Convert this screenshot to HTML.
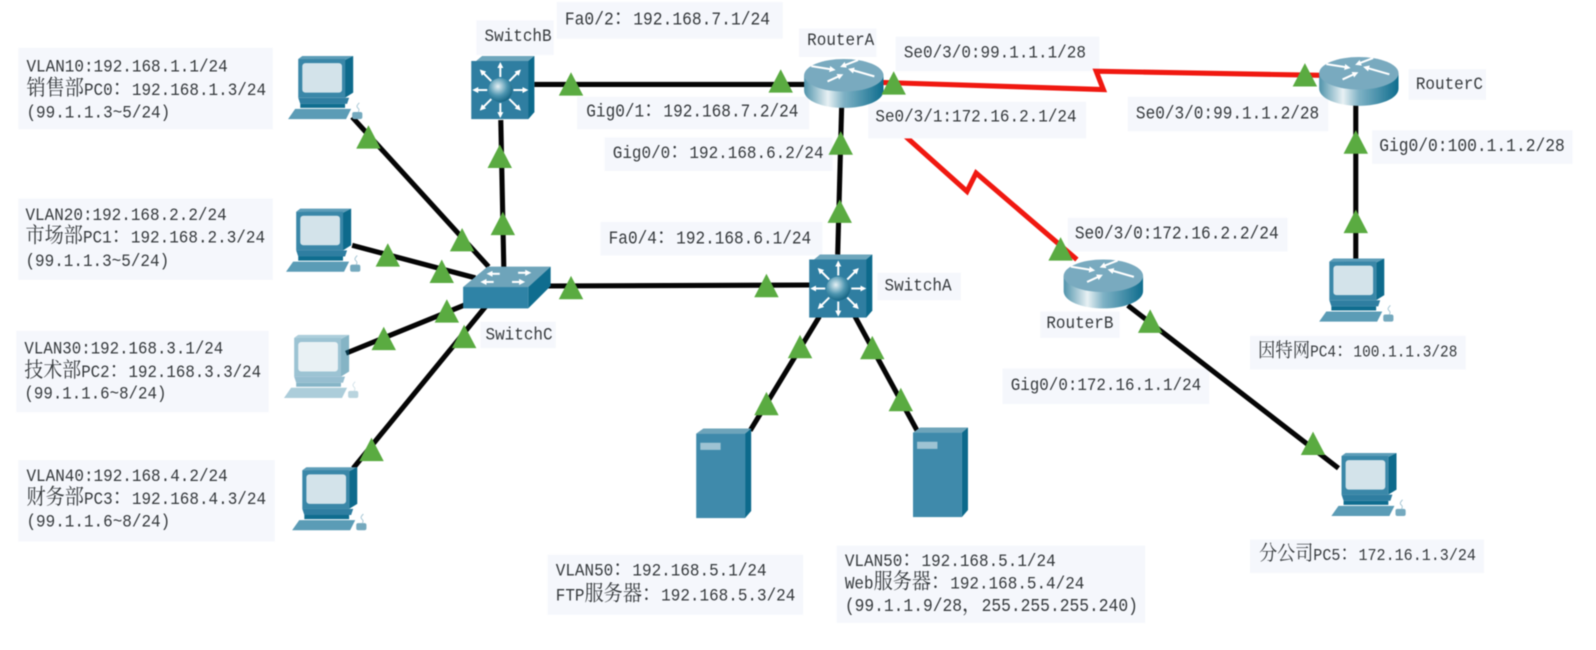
<!DOCTYPE html>
<html><head><meta charset="utf-8"><style>
html,body{margin:0;padding:0;background:#fff}
svg{display:block;width:1596px;height:650px;filter:blur(.5px)}
text{font-family:"Liberation Mono","Noto Serif CJK SC",monospace;fill:#35393c;white-space:pre;transform-box:fill-box;transform-origin:0 100%;transform:scaleY(1.12)}
tspan.c{font-size:1.2em}
.k{fill:none;stroke:#050505;stroke-width:5}
.r{fill:none;stroke:#f01810;stroke-width:5;stroke-linejoin:miter}
.b{fill:#f5f7fc}
.wa{fill:none;stroke:#fff;stroke-width:2;marker-end:url(#ah)}
</style></head><body>
<svg xmlns="http://www.w3.org/2000/svg" viewBox="0 0 1568 638.6" preserveAspectRatio="none">
<defs>
<marker id="ah" viewBox="0 0 6 6" refX="1" refY="3" markerWidth="3" markerHeight="3" orient="auto" markerUnits="strokeWidth"><path d="M0 0L6 3L0 6Z" fill="#fff"/></marker>
<linearGradient id="rg" x1="0" x2="1" y1="0" y2="0"><stop offset="0" stop-color="#4f93ab"/><stop offset=".3" stop-color="#e8f1f4"/><stop offset=".5" stop-color="#7fb2c5"/><stop offset="1" stop-color="#0e6d8e"/></linearGradient>
<radialGradient id="sp" cx=".4" cy=".35" r=".7"><stop offset="0" stop-color="#e6f1f5"/><stop offset=".55" stop-color="#4d95b0"/><stop offset="1" stop-color="#0f5f7f"/></radialGradient>
<symbol id="router" viewBox="0 0 80 50" overflow="visible"><path d="M1 17V32C1 42 19 49 40 49S79 42 79 32V17Z" fill="url(#rg)"/><ellipse cx="40" cy="17" rx="39" ry="16" fill="#79aabf"/><path class="wa" d="M8 8L27 11"/><path class="wa" d="M54 2L41 7"/><path class="wa" d="M70 18L49 12"/><path class="wa" d="M24 23L35 18"/></symbol>
<symbol id="l3" viewBox="0 0 64 64" overflow="visible"><path d="M5 5L11 0H63V56L57 63Z" fill="#0d6a8c"/><path d="M5 5L11 0H63L57 5Z" fill="#6ea6bc"/><rect x="0" y="5" width="57" height="58" fill="#2f7ea1"/><path class="wa" d="M29 21V11"/><path class="wa" d="M29 47V57"/><path class="wa" d="M16 34H6"/><path class="wa" d="M42 34H52"/><path class="wa" d="M20 25L12 17"/><path class="wa" d="M38 25L46 17"/><path class="wa" d="M20 43L12 51"/><path class="wa" d="M38 43L46 51"/><circle cx="29" cy="34" r="12" fill="url(#sp)"/></symbol>
<symbol id="sw" viewBox="0 0 86 42" overflow="visible"><path d="M0 21L24 1H86L64 21Z" fill="#6ea4ba"/><rect y="21" width="64" height="21" fill="#2f83a6"/><path d="M64 21L86 1V20L64 42Z" fill="#0f6d8f"/><path class="wa" d="M36 8L28 8"/><path class="wa" d="M54 7L62 7"/><path class="wa" d="M30 16L22 16"/><path class="wa" d="M48 16L56 16"/></symbol>
<symbol id="pc" viewBox="0 0 72 62" overflow="visible"><path d="M10 3L14 0H64L56 4Z" fill="#5d9db8"/><path d="M56 4L64 0V36L56 41Z" fill="#0d6a8c"/><rect x="10" y="3" width="46" height="38" fill="#3a87a8"/><rect x="14" y="7" width="39" height="29" rx="3" fill="#d3e3ea"/><path d="M10 41H60L58 47H12Z" fill="#2f7ea1"/><path d="M12 47H56V51H12Z" fill="#0f6d8f"/><path d="M7 52H62L57 62H0Z" fill="#5b9cb6"/><rect x="63" y="55" width="10" height="7" rx="2" fill="#74a9be"/><path d="M69 55C72 50 64 52 70 46" fill="none" stroke="#a9c8d6" stroke-width="1"/></symbol>
<symbol id="srv" viewBox="0 0 54 88" overflow="visible"><path d="M0 5L7 0H54L48 5Z" fill="#6ea4ba"/><path d="M48 5L54 0V81L48 88Z" fill="#0d6a8c"/><rect y="5" width="48" height="83" fill="#3f8aab"/><rect x="4" y="14" width="20" height="7" fill="#9ec3d3"/></symbol>
<path id="t" d="M0 -12L12 11H-12Z" fill="#5aab41"/>
</defs>

<!-- label backgrounds under the connectors -->
<rect class="b" x="18" y="47" width="250" height="80"/>
<rect class="b" x="18" y="195" width="250" height="80"/>
<rect class="b" x="16" y="325" width="248" height="80"/>
<rect class="b" x="18" y="452" width="252" height="80"/>
<rect class="b" x="468" y="20" width="76" height="34"/>
<rect class="b" x="547" y="2" width="222" height="36"/>
<rect class="b" x="785" y="28" width="76" height="28"/>
<rect class="b" x="880" y="36" width="200" height="34"/>
<rect class="b" x="567" y="95" width="228" height="32"/>
<rect class="b" x="594" y="135" width="224" height="33"/>
<rect class="b" x="590" y="218" width="218" height="33"/>
<rect class="b" x="862" y="268" width="82" height="27"/>
<rect class="b" x="472" y="316" width="74" height="26"/>
<rect class="b" x="1022" y="306" width="78" height="26"/>
<rect class="b" x="1049" y="214" width="216" height="33"/>
<rect class="b" x="1108" y="95" width="197" height="34"/>
<rect class="b" x="1384" y="68" width="76" height="30"/>
<rect class="b" x="1348" y="128" width="197" height="33"/>
<rect class="b" x="1228" y="330" width="212" height="33"/>
<rect class="b" x="985" y="362" width="203" height="35"/>
<rect class="b" x="1228" y="530" width="230" height="33"/>
<rect class="b" x="538" y="545" width="251" height="59"/>
<rect class="b" x="822" y="536" width="303" height="76"/>

<!-- connectors -->
<path class="k" d="M346 115L480 262"/>
<path class="k" d="M346 241L467 273"/>
<path class="k" d="M340 347L458 299"/>
<path class="k" d="M347 460L478 300"/>
<path class="k" d="M492 118L495 264"/>
<path class="k" d="M525 83L795 83"/>
<path class="k" d="M535 281L797 280"/>
<path class="k" d="M827 100L823 250"/>
<path class="k" d="M805 311L737 423"/>
<path class="k" d="M840 311L901 423"/>
<path class="k" d="M1108 300L1315 460"/>
<path class="k" d="M1332 100L1332 255"/>
<path class="r" d="M866 81L1084 88L1077 70L1298 74"/>
<path class="r" d="M855 103L950 188L959 170L1058 255"/>

<!-- this label box hides the start of the red link -->
<rect class="b" x="853" y="100" width="214" height="36"/>

<!-- devices -->
<use href="#pc" x="283" y="55" width="72" height="62"/>
<use href="#pc" x="281" y="205" width="72" height="62"/>
<use href="#pc" x="279" y="329" width="72" height="62" opacity=".5"/>
<use href="#pc" x="287" y="459" width="72" height="62"/>
<use href="#pc" x="1296" y="254" width="72" height="62"/>
<use href="#pc" x="1308" y="445" width="72" height="62"/>
<use href="#l3" x="463" y="55" width="63" height="63"/>
<use href="#l3" x="795" y="250" width="63" height="63"/>
<use href="#sw" x="455" y="261" width="86" height="42"/>
<use href="#router" x="789" y="57" width="80" height="50"/>
<use href="#router" x="1044" y="254" width="80" height="50"/>
<use href="#router" x="1295" y="55" width="80" height="50"/>
<use href="#srv" x="684" y="421" width="54" height="88"/>
<use href="#srv" x="897" y="420" width="54" height="88"/>

<!-- link lights -->
<use href="#t" x="362" y="135"/><use href="#t" x="454" y="236"/><use href="#t" x="381" y="251"/><use href="#t" x="434" y="267"/>
<use href="#t" x="377" y="333"/><use href="#t" x="439" y="306"/><use href="#t" x="456" y="331"/><use href="#t" x="365" y="442"/>
<use href="#t" x="491" y="154"/><use href="#t" x="494" y="220"/><use href="#t" x="561" y="83"/><use href="#t" x="767" y="80"/>
<use href="#t" x="561" y="283"/><use href="#t" x="753" y="281"/><use href="#t" x="826" y="141"/><use href="#t" x="825" y="208"/>
<use href="#t" x="786" y="341"/><use href="#t" x="753" y="397"/><use href="#t" x="857" y="342"/><use href="#t" x="885" y="393"/>
<use href="#t" x="878" y="82"/><use href="#t" x="1282" y="74"/><use href="#t" x="1042" y="245"/><use href="#t" x="1130" y="316"/>
<use href="#t" x="1290" y="436"/><use href="#t" x="1332" y="140"/><use href="#t" x="1332" y="218"/>

<!-- text -->
<g font-size="15.7">
<text x="26" y="71">VLAN10:192.168.1.1/24</text>
<text x="26" y="94"><tspan class="c">销售部</tspan>PC0<tspan class="c">：</tspan>192.168.1.3/24</text>
<text x="26" y="116">(99.1.1.3~5/24)</text>
<text x="25" y="217">VLAN20:192.168.2.2/24</text>
<text x="25" y="239"><tspan class="c">市场部</tspan>PC1<tspan class="c">：</tspan>192.168.2.3/24</text>
<text x="25" y="262">(99.1.1.3~5/24)</text>
<text x="24" y="348" font-size="15.5">VLAN30:192.168.3.1/24</text>
<text x="24" y="371" font-size="15.5"><tspan class="c">技术部</tspan>PC2<tspan class="c">：</tspan>192.168.3.3/24</text>
<text x="24" y="392" font-size="15.5">(99.1.1.6~8/24)</text>
<text x="26" y="473">VLAN40:192.168.4.2/24</text>
<text x="26" y="496"><tspan class="c">财务部</tspan>PC3<tspan class="c">：</tspan>192.168.4.3/24</text>
<text x="26" y="518">(99.1.1.6~8/24)</text>
<text x="476" y="41">SwitchB</text>
<text x="555" y="25" font-size="16">Fa0/2<tspan class="c">：</tspan>192.168.7.1/24</text>
<text x="793" y="45">RouterA</text>
<text x="888" y="57">Se0/3/0:99.1.1.1/28</text>
<text x="860" y="120">Se0/3/1:172.16.2.1/24</text>
<text x="576" y="115" font-size="15.8">Gig0/1<tspan class="c">：</tspan>192.168.7.2/24</text>
<text x="602" y="156">Gig0/0<tspan class="c">：</tspan>192.168.6.2/24</text>
<text x="598" y="240" font-size="15.8">Fa0/4<tspan class="c">：</tspan>192.168.6.1/24</text>
<text x="869" y="286">SwitchA</text>
<text x="477" y="334">SwitchC</text>
<text x="1028" y="323">RouterB</text>
<text x="1056" y="235" font-size="15.9">Se0/3/0:172.16.2.2/24</text>
<text x="1116" y="117" font-size="15.8">Se0/3/0:99.1.1.2/28</text>
<text x="1391" y="88">RouterC</text>
<text x="1355" y="149" font-size="16">Gig0/0:100.1.1.2/28</text>
<text x="1236" y="351" font-size="14.2"><tspan class="c">因特网</tspan>PC4<tspan class="c">：</tspan>100.1.1.3/28</text>
<text x="993" y="384" font-size="15.6">Gig0/0:172.16.1.1/24</text>
<text x="1237" y="551" font-size="14.8"><tspan class="c">分公司</tspan>PC5<tspan class="c">：</tspan>172.16.1.3/24</text>
<text x="546" y="566">VLAN50<tspan class="c">：</tspan>192.168.5.1/24</text>
<text x="546" y="591">FTP<tspan class="c">服务器：</tspan>192.168.5.3/24</text>
<text x="830" y="557">VLAN50<tspan class="c">：</tspan>192.168.5.1/24</text>
<text x="830" y="579">Web<tspan class="c">服务器：</tspan>192.168.5.4/24</text>
<text x="830" y="601" font-size="16">(99.1.1.9/28<tspan class="c">，</tspan>255.255.255.240)</text>
</g>
</svg>
</body></html>
